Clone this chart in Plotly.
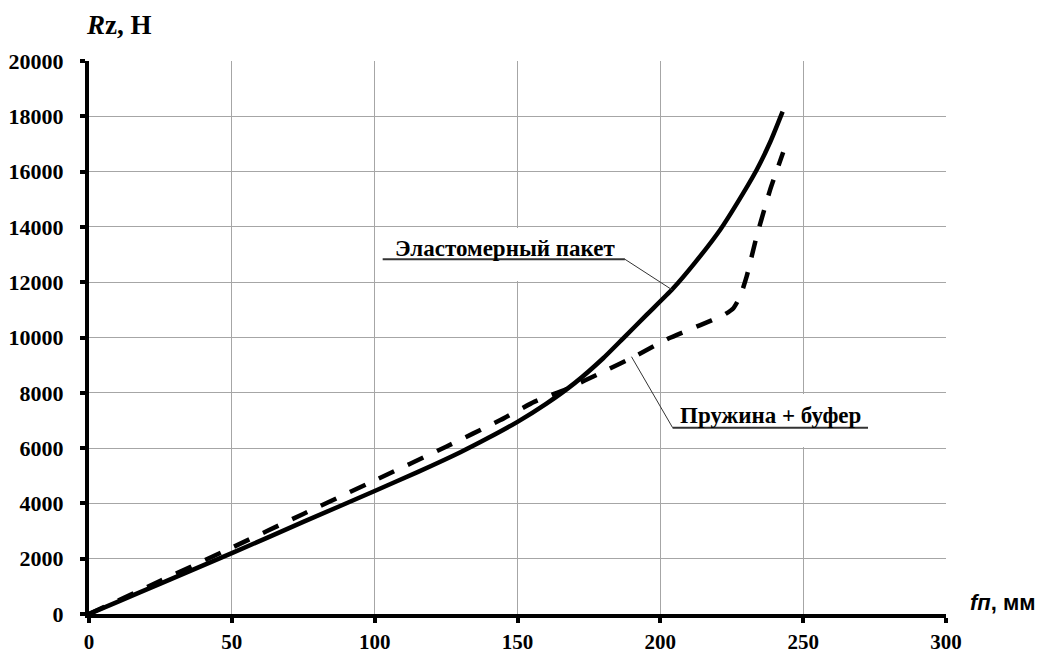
import plotly.graph_objects as go

# Эластомерный пакет (solid)
elast_x = [0, 10, 25, 50, 75, 100, 115, 130, 140, 150, 160, 170, 180, 187, 195, 204.5, 212, 220.9, 227, 233.7, 238.5, 242.8]
elast_y = [0, 440, 1100, 2200, 3330, 4450, 5130, 5850, 6380, 6950, 7600, 8350, 9250, 9970, 10800, 11780, 12690, 13890, 14880, 16060, 17080, 18170]

# Пружина + буфер (dashed)
spring_x = [0, 25, 50, 75, 100, 125, 144, 156, 167, 180, 192, 203, 214, 222, 225.5, 228, 230.2, 233.7, 238.4, 243]
spring_y = [0, 1200, 2400, 3620, 4830, 6050, 7016, 7680, 8130, 8760, 9370, 9970, 10450, 10800, 11050, 11500, 12200, 13650, 15330, 16700]

x_ticks = [0, 50, 100, 150, 200, 250, 300]
y_ticks = [0, 2000, 4000, 6000, 8000, 10000, 12000, 14000, 16000, 18000, 20000]

label_elast = "Эластомерный пакет"
label_spring = "Пружина + буфер"

SERIF = "Liberation Serif"
SANS = "Liberation Sans"

fig = go.Figure()
fig.add_trace(go.Scatter(x=elast_x, y=elast_y, mode="lines",
                         line=dict(color="black", width=4.5, shape="spline", smoothing=0.6),
                         name=label_elast, showlegend=False))
fig.add_trace(go.Scatter(x=spring_x, y=spring_y, mode="lines",
                         line=dict(color="black", width=4.5, dash="17px,15px", shape="spline", smoothing=0.5),
                         name=label_spring, showlegend=False))

axis_common = dict(showline=True, linewidth=4, linecolor="black", ticks="outside",
                   ticklen=5, tickwidth=4, tickcolor="black", showgrid=True,
                   gridcolor="#a6a6a6", gridwidth=1, zeroline=False, automargin=False)

fig.update_xaxes(range=[0, 300], tickvals=x_ticks, ticktext=[f"<b>{v}</b>" for v in x_ticks],
                 ticklabelstandoff=1, tickfont=dict(family=SERIF, size=21, color="black"),
                 **axis_common)
fig.update_yaxes(range=[0, 20000], tickvals=y_ticks, ticktext=[f"<b>{v}</b>" for v in y_ticks],
                 ticklabelstandoff=12, tickfont=dict(family=SERIF, size=22, color="black"),
                 **axis_common)

# white boxes behind labels
fig.add_shape(type="rect", x0=100.4, x1=199.6, y0=12040, y1=13960, xref="x", yref="y",
              fillcolor="white", line=dict(width=0), layer="between")
fig.add_shape(type="rect", x0=200.4, x1=299.6, y0=6040, y1=7960, xref="x", yref="y",
              fillcolor="white", line=dict(width=0), layer="between")

# underlines and leaders
fig.add_shape(type="line", x0=102.8, x1=187.6, y0=12830, y1=12830, xref="x", yref="y",
              line=dict(color="#333333", width=2), layer="above")
fig.add_shape(type="line", x0=187.6, x1=204.2, y0=12830, y1=11720, xref="x", yref="y",
              line=dict(color="#333333", width=1), layer="above")
fig.add_shape(type="line", x0=204.3, x1=272.7, y0=6738, y1=6738, xref="x", yref="y",
              line=dict(color="#333333", width=2), layer="above")
fig.add_shape(type="line", x0=204.3, x1=189.9, y0=6738, y1=9306, xref="x", yref="y",
              line=dict(color="#333333", width=1), layer="above")

labfont = dict(family=SERIF, size=23, color="black")
fig.add_annotation(x=145.6, y=13226, xref="x", yref="y", text=f"<b>{label_elast}</b>", showarrow=False,
                   font=labfont, xanchor="center", yanchor="middle")
fig.add_annotation(x=238.7, y=7197, xref="x", yref="y", text=f"<b>{label_spring}</b>", showarrow=False,
                   font=labfont, xanchor="center", yanchor="middle")

# axis titles
fig.add_annotation(x=0.035, y=1.065, xref="paper", yref="paper", text="<b><i>R</i>z, Н</b>",
                   showarrow=False, font=dict(family=SERIF, size=27, color="black"),
                   xanchor="center", yanchor="middle")
fig.add_annotation(x=1.066, y=0.02, xref="paper", yref="paper", text="<b><i>fп</i>, мм</b>",
                   showarrow=False, font=dict(family=SANS, size=22, color="black"),
                   xanchor="center", yanchor="middle")

fig.update_layout(width=1038, height=643, margin=dict(l=81, r=100, t=53, b=37, autoexpand=False),
                  plot_bgcolor="white", paper_bgcolor="white", showlegend=False)

fig.write_html("out.html")
